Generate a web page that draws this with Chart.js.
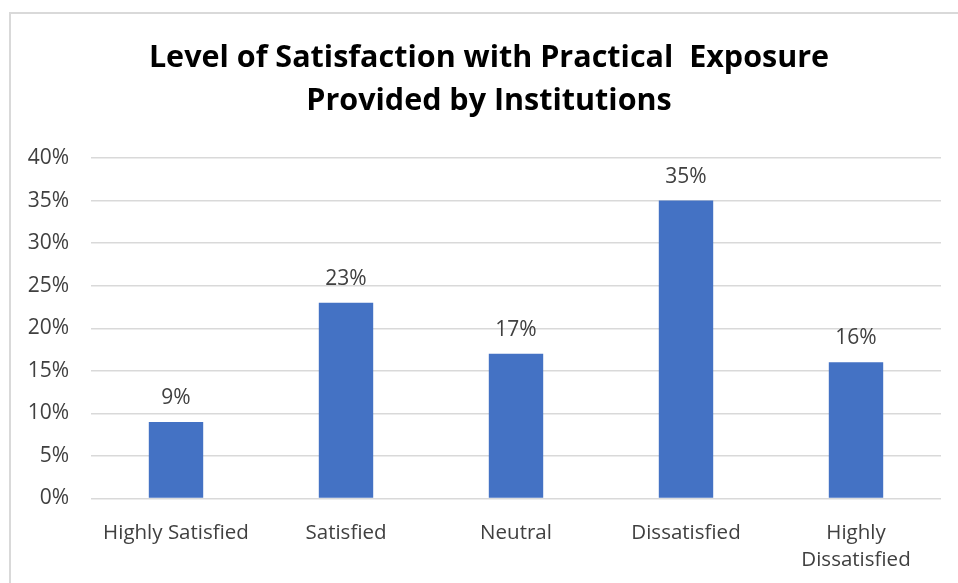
<!DOCTYPE html>
<html>
<head>
<meta charset="utf-8">
<script src="https://cdn.jsdelivr.net/npm/chart.js@4.4.1/dist/chart.umd.min.js"></script>
<style>
    html, body { margin: 0; padding: 0; background: #fff; overflow: hidden; }
    #frame {
        position: absolute; left: 9px; top: 12px;
        width: 980px; height: 620px;
        border: 2px solid #d9d9d9;
    }
    #wrap { position: absolute; left: 0; top: 0; width: 958px; height: 583px; }
</style>
</head>
<body>
<div id="frame"></div>
<div id="wrap"><canvas id="satisfactionChart"></canvas></div>
<script>
const categories = ['Highly Satisfied', 'Satisfied', 'Neutral', 'Dissatisfied', ['Highly', 'Dissatisfied']];
const values = [9, 23, 17, 35, 16];
const yTicks = [0, 5, 10, 15, 20, 25, 30, 35, 40];
const titleLines = ['Level of Satisfaction with Practical  Exposure', 'Provided by Institutions'];

const FONT = "'Open Sans', sans-serif";

// the title in the original sits a bit left of the plot centre, so draw it here
const chartTitle = {
    id: 'chartTitle',
    afterDraw(chart) {
        const ctx = chart.ctx;
        ctx.save();
        ctx.font = 'bold 30.5px ' + FONT;
        ctx.fillStyle = '#000';
        ctx.textAlign = 'center';
        ctx.textBaseline = 'middle';
        titleLines.forEach((line, i) => {
            ctx.fillText(line, 489, 58 + i * 43);
        });
        ctx.restore();
    }
};

// draws the % value above each bar
const valueLabels = {
    id: 'valueLabels',
    afterDatasetsDraw(chart) {
        const ctx = chart.ctx;
        const meta = chart.getDatasetMeta(0);
        ctx.save();
        ctx.font = '21px ' + FONT;
        ctx.fillStyle = '#404040';
        ctx.textAlign = 'center';
        ctx.textBaseline = 'middle';
        meta.data.forEach((bar, i) => {
            ctx.fillText(values[i] + '%', bar.x, bar.y - 24);
        });
        ctx.restore();
    }
};

const ctx = document.getElementById('satisfactionChart').getContext('2d');
let satisfactionChart = new Chart(ctx, {
    type: 'bar',
    data: {
        labels: categories,
        datasets: [{
            data: values,
            backgroundColor: '#4472C4',
            categoryPercentage: 1,
            barPercentage: 0.32
        }]
    },
    options: {
        responsive: true,
        maintainAspectRatio: false,
        animation: false,
        layout: { padding: { left: 0, right: 17, top: 158, bottom: 0 } },
        plugins: {
            legend: { display: false },
            tooltip: { enabled: false },
            title: { display: false }
        },
        scales: {
            x: {
                grid: { display: false, drawTicks: false },
                border: { display: false },
                ticks: { color: '#404040', font: { family: FONT, size: 20.5, lineHeight: 1.32 }, padding: 21, maxRotation: 0 },
                afterFit: scale => { scale.height = 84.5; }
            },
            y: {
                min: 0,
                max: 40,
                afterBuildTicks: scale => { scale.ticks = yTicks.map(v => ({ value: v })); },
                grid: { color: '#d9d9d9', lineWidth: 1.5, drawTicks: false },
                border: { display: false },
                ticks: {
                    color: '#404040',
                    font: { family: FONT, size: 21 },
                    padding: 22,
                    callback: v => v + '%'
                },
                afterFit: scale => { scale.width = 91; }
            }
        }
    },
    plugins: [valueLabels, chartTitle]
});
</script>
</body>
</html>
